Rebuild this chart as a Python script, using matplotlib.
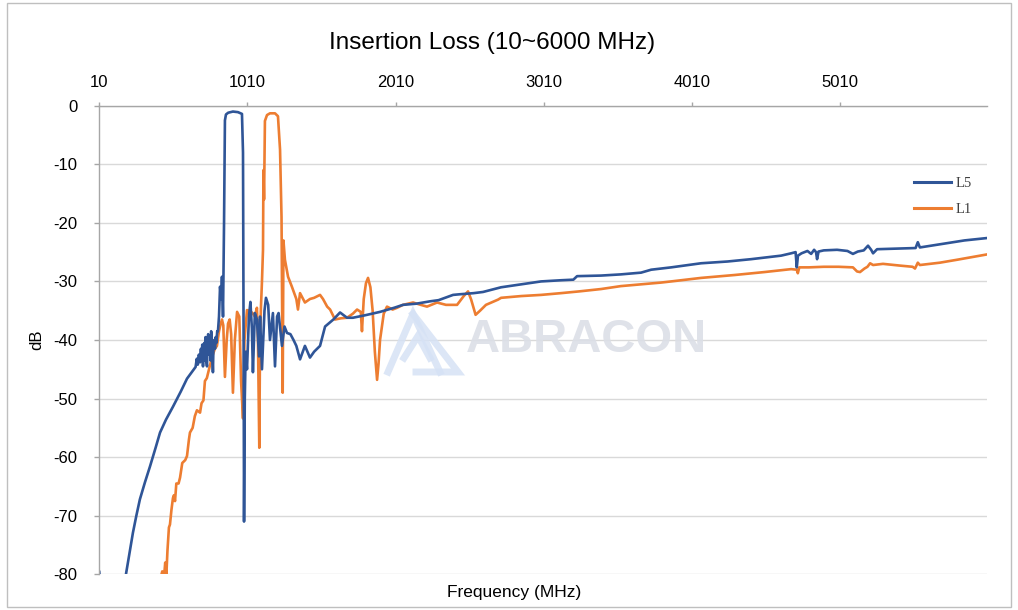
import matplotlib
matplotlib.use("Agg")
import matplotlib.pyplot as plt
from matplotlib.lines import Line2D
from matplotlib.patches import Rectangle

plt.rcParams['font.family'] = ['Liberation Sans', 'DejaVu Sans']
plt.rcParams['axes.unicode_minus'] = False

title = "Insertion Loss (10~6000 MHz)"
x_label = "Frequency (MHz)"
y_label = "dB"
x_ticks = [10, 1010, 2010, 3010, 4010, 5010]
y_ticks = [0, -10, -20, -30, -40, -50, -60, -70, -80]
series_names = ["L5", "L1"]

l5_freq = [10, 25, 100, 170, 190, 210, 237, 260, 284, 318, 352, 390, 420, 460, 507, 560, 602, 640, 660, 668,
           675, 682, 690, 696, 700, 705, 710, 714, 718, 723, 727, 730, 737, 741, 745, 752, 757, 761, 765, 771,
           777, 781, 785, 791, 796, 800, 806, 811, 818, 825, 832, 838, 845, 852, 858, 865,
           880, 912, 946, 973, 980, 984, 987, 992, 998, 1007, 1020, 1030, 1040, 1047, 1060, 1074, 1088, 1095,
           1108, 1125, 1135, 1150, 1162, 1182, 1196, 1210, 1220, 1243, 1260, 1277, 1300, 1321, 1340, 1365,
           1398, 1432, 1460, 1500, 1534, 1590, 1635, 1682, 1722, 1800, 1905, 2000, 2060, 2150, 2242, 2300,
           2398, 2440, 2537, 2600, 2722, 2857, 2992, 3127, 3210, 3235, 3397, 3530, 3667, 3735, 3870, 4072,
           4250, 4410, 4612, 4680, 4710, 4718, 4726, 4750, 4790, 4815, 4835, 4848, 4855, 4865, 4900, 4990,
           5060, 5097, 5130, 5170, 5199, 5220, 5233, 5260, 5400, 5520, 5535, 5549, 5700, 5850, 6000]
l5_db = [-79.6, -84, -90, -83, -80, -77, -72.9, -70, -67.2, -64.3, -61.6, -58.4, -55.8, -53.6, -51.4, -48.8,
         -46.6, -45.3, -44.6, -43.2, -44.2, -42.5, -43.8, -41.5, -43.5, -40.8, -44.5, -41.5, -40.5, -43.5,
         -39.5, -43, -44.5, -40, -39, -42.5, -41, -43.5, -38.5, -41, -45.5, -40.5, -40, -41.5, -39.5, -40.5,
         -38.5, -38.5, -36, -30.9, -33, -29.2, -36, -20, -2.5, -1.5,
         -1.2, -1.0, -1.1, -1.4, -8, -40, -71, -50, -42, -45, -36,
         -33.5, -38, -45.5, -35.4, -36.5, -42.8, -36, -45, -35, -32.8, -34, -40, -35.4, -44.5, -36, -35.4,
         -41, -37.7, -38.8, -39, -40, -41, -43.3, -41, -43, -42, -41, -37.7, -36.5, -35.3, -36.2, -36.2,
         -35.8, -35.2, -34.5, -34, -33.8, -33.4, -33.2, -32.3, -32.2, -32, -31.8, -31, -30.5, -30, -29.8,
         -29.7, -29.1, -29, -28.8, -28.5, -28, -27.6, -26.9, -26.6, -26.2, -25.6, -25.2, -25.0, -27.6, -25.6,
         -25.2, -24.8, -25.3, -24.6, -25.0, -26.2, -24.9, -24.7, -24.6, -24.8, -25.3, -24.9, -24.7, -23.9,
         -24.6, -25.2, -24.5, -24.4, -24.3, -23.3, -24.2, -23.6, -23.0, -22.6]

l1_freq = [10, 300, 420, 435, 447, 455, 462, 470, 480, 487, 497, 507, 514, 521, 530, 545, 555, 570, 590, 602,
           615, 622, 640, 655, 669, 690, 700, 713, 723, 736, 757, 770, 790, 804, 818, 825, 838, 847, 858, 870,
           879, 890, 900, 912, 925, 940, 955, 967, 980, 990, 1007, 1027, 1047, 1060, 1074, 1081, 1090, 1095,
           1101, 1108, 1115, 1118, 1122, 1128, 1142, 1162, 1196, 1216, 1230, 1240, 1244, 1248, 1253, 1263,
           1284, 1310, 1340, 1351, 1365, 1398, 1432, 1460, 1500, 1520, 1548, 1568, 1601, 1640, 1682, 1722,
           1750, 1775, 1783, 1795, 1810, 1824, 1840, 1855, 1870, 1885, 1895, 1905, 1930, 1952, 1990, 2020,
           2060, 2128, 2180, 2222, 2290, 2350, 2425, 2470, 2499, 2520, 2550, 2580, 2620, 2702, 2722, 2857,
           2992, 3127, 3250, 3397, 3530, 3667, 3800, 3870, 4072, 4300, 4500, 4680, 4718, 4725, 4735, 4800,
           4900, 5000, 5097, 5125, 5145, 5175, 5195, 5213, 5233, 5300, 5415, 5500, 5516, 5535, 5549, 5684,
           5800, 6000]
l1_db = [-100, -92, -81, -79.5, -80.5, -78, -80.5, -76, -72, -71.5, -69, -67, -66.5, -67.5, -64.5, -64.5, -63.5,
         -61, -60.5, -59.8, -57, -55.8, -55, -53, -52, -52.4, -50.8, -50.3, -47, -46.5, -44.3, -43, -41.5, -41,
         -38.5, -37.7, -36.5, -37.5, -46.3, -40, -37.2, -36.5, -39, -49, -40, -35.2, -36, -47, -53.4, -40,
         -34.9, -35, -35.5, -36, -34.5, -40, -58.4, -40, -34.5, -30, -24.6, -11, -16, -2.6, -1.6, -1.3, -1.3,
         -1.8, -7.5, -19, -35, -49, -23, -26.3, -29.2, -30.9, -33, -34.8, -32, -33.6, -33, -32.8, -32.3, -33,
         -34.3, -34.8, -36.5, -36.3, -36.2, -35.5, -34.8, -35.2, -38.5, -33, -30.3, -29.4, -31, -35, -42,
         -46.8, -44, -40, -35.5, -34.3, -34.8, -34.5, -34, -33.6, -34, -34.3, -33.6, -34, -34, -32.5, -31.7,
         -33.1, -35.7, -35, -34, -33.1, -32.8, -32.5, -32.3, -32, -31.7, -31.3, -30.8, -30.5, -30.2, -30,
         -29.4, -28.9, -28.4, -27.9, -28.0, -28.6, -27.6, -27.6, -27.5, -27.5, -27.6, -28.3, -28.4, -27.8,
         -27.5, -26.9, -27.2, -27.0, -27.3, -27.5, -27.8, -26.8, -27.2, -26.8, -26.3, -25.4]

W, H = 1018, 610
fig = plt.figure(figsize=(W / 100, H / 100), dpi=100)


def fx(x):
    return x / W


def fy(y):
    return 1 - y / H


ax_l, ax_r, ax_t, ax_b = 99.3, 986.7, 105.7, 574.3
ax = fig.add_axes([fx(ax_l), fy(ax_b), (ax_r - ax_l) / W, (ax_b - ax_t) / H])

blue = '#2F5597'
orange = '#ED7D31'

ax.plot(l5_freq, l5_db, color=blue, lw=1.9, zorder=4, solid_joinstyle='round')
ax.plot(l1_freq, l1_db, color=orange, lw=1.9, zorder=3, solid_joinstyle='round')

ax.set_xlim(10, 6000)
ax.set_ylim(-80, 0)
ax.set_xticks(x_ticks)
ax.set_xticklabels([str(v) for v in x_ticks])
ax.set_yticks(y_ticks)
ax.set_yticklabels([str(v) for v in y_ticks])
ax.xaxis.tick_top()
ax.tick_params(axis='x', direction='out', length=3, width=1, color='#a6a6a6', pad=8, labelsize=12)
ax.tick_params(axis='y', direction='out', length=3.6, width=1, color='#a6a6a6', pad=12, labelsize=12)
ax.yaxis.grid(True, color='#d9d9d9', lw=1)
ax.set_axisbelow(True)
for s in ['right', 'bottom']:
    ax.spines[s].set_visible(False)
for s in ['top', 'left']:
    ax.spines[s].set_color('#a6a6a6')
    ax.spines[s].set_linewidth(1)
    ax.spines[s].set_zorder(5)

# watermark
wm_text_color = '#dcdfe7'
wm_logo_color = '#d6e2f5'
fig.text(fx(586), fy(340), "ABRACON", fontsize=34, fontweight='bold', color=wm_text_color,
         ha='center', va='center', zorder=2, alpha=0.9)
logo_paths = [
    [(388, 372), (413, 314), (440, 372)],
    [(413, 314), (458, 372), (416, 372)],
    [(404, 358), (418, 336), (430, 358)],
]
for path in logo_paths:
    xs = [fx(p[0]) for p in path]
    ys = [fy(p[1]) for p in path]
    fig.add_artist(Line2D(xs, ys, color=wm_logo_color, lw=5, zorder=2, alpha=0.85,
                          solid_joinstyle='miter'))

# legend
handles = [Line2D([], [], color=blue, lw=2.2), Line2D([], [], color=orange, lw=2.2)]
leg = ax.legend(handles, series_names, loc='upper left', bbox_to_anchor=(0.912, 0.86), frameon=False,
                prop={'family': 'Liberation Serif', 'size': 10.5}, handlelength=2.5, handletextpad=0.3,
                labelspacing=0.85, borderaxespad=0)
for t in leg.get_texts():
    t.set_color('#404040')

fig.text(fx(492), fy(43), title, fontsize=17.5, ha='center', va='center')
fig.text(fx(514), fy(593), x_label, fontsize=12.5, ha='center', va='center')
fig.text(fx(37), fy(340), y_label, fontsize=12, ha='center', va='center', rotation=90)

fig.add_artist(Rectangle((fx(7), fy(607)), fx(1011) - fx(7), fy(3) - fy(607), fill=False,
                         edgecolor='#bfbfbf', lw=1, transform=fig.transFigure))

fig.savefig('out.png', dpi=100)
